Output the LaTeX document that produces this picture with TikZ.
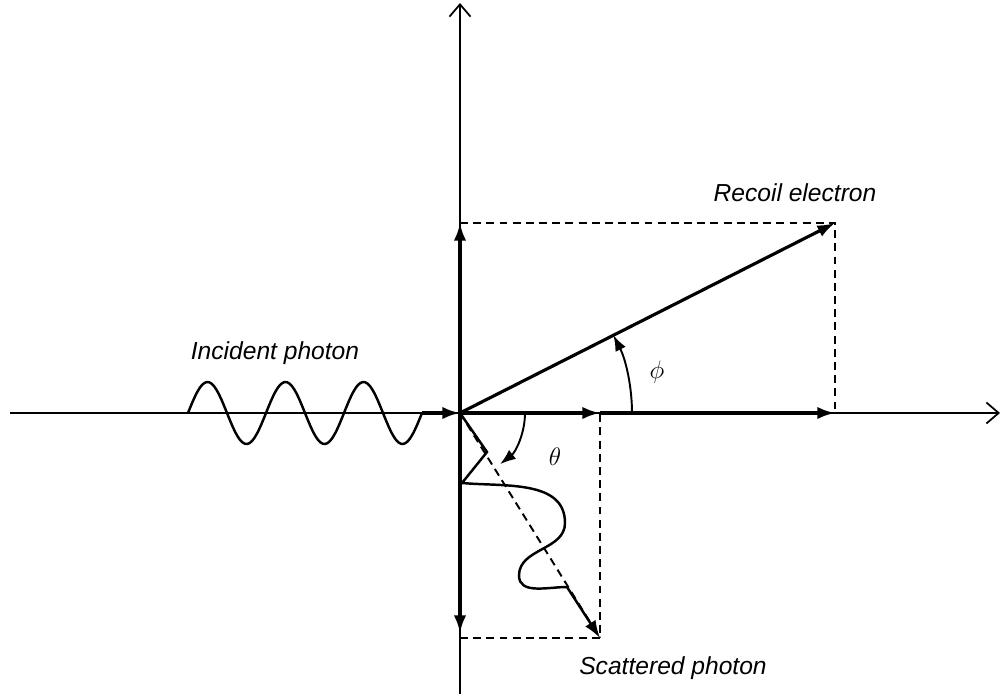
\documentclass[tikz,border=0pt]{standalone}
\usepackage{fontspec}
\setmainfont{Liberation Sans}
\usepackage{tikz}
\usetikzlibrary{arrows,arrows.meta,positioning}

\begin{document}
\begin{tikzpicture}[
    every node/.style={font=\fontsize{14}{16}\selectfont\itshape},
    axis/.style={-{Straight Barb[length=7pt,width=12pt]}, line width=1pt},
    vec/.style={-{Latex[length=10pt,width=7pt]}, line width=1.8pt},
    proj/.style={dash pattern=on 4.5pt off 3pt, line width=1.1pt},
    wave/.style={line width=1.4pt},
    ang/.style={-{Latex[length=9pt,width=6.5pt]}, line width=1.1pt}
]
\useasboundingbox (-9.2,-5.62) rectangle (10.84,8.26);

% Points
\coordinate (O)    at (0,0);
\coordinate (xl)   at (-9.0,0);
\coordinate (xr)   at (10.8,0);
\coordinate (yb)   at (0,-5.62);
\coordinate (yt)   at (0,8.2);
\coordinate (elec) at (7.5,3.8);
\coordinate (scat) at (2.8,-4.5);
\coordinate (ex)   at (7.5,0);
\coordinate (ey)   at (0,3.8);
\coordinate (sx)   at (2.8,0);
\coordinate (sy)   at (0,-4.4);
\coordinate (win)  at (-0.76,0);

% Axes
\draw[axis] (yb) -- (yt);
\draw[axis] (xl) -- (xr);

% Dashed components
\draw[proj] (ey) -- (elec) -- (ex);
\draw[proj] (O |- scat) -- (scat) -- (sx);
\draw[proj] (O) -- (scat);

% Vectors
\draw[vec] (O) -- (elec);
\draw[vec] (O) -- (ey);
\draw[vec] (O) -- (sy);
\draw[vec] (O) -- (sx);
\draw[vec] (sx) -- (ex);
\draw[vec] (win) -- (O);

% Incident wave
\draw[wave] plot[domain=-5.44:-0.76, samples=100] (\x, {0.62*sin(360*(\x+5.44)/1.56)});

% Scattered wave
\draw[wave, -{Latex[length=10pt,width=7pt]}] (O) -- (0.54,-0.78) -- (0.04,-1.4)
    to[out=-5,in=90] (2.1,-2.2) to[out=-90,in=90] (1.18,-3.25)
    to[out=-90,in=180] (2.14,-3.48) -- (scat);

% Angles
\draw[ang] (3.44,0) arc[start angle=0, end angle=26.9, radius=3.44];
\draw[ang] (1.3,0) arc[start angle=0, end angle=-52, radius=1.3];

% Labels
\node (inc)   at (-3.7,1.2)   {Incident photon};
\node (rec)   at (6.7,4.4)    {Recoil electron};
\node (sca)   at (4.26,-5.1)  {Scattered photon};
\node (phi)   at (3.94,0.82)  {$\phi$};
\node (theta) at (1.9,-0.88)  {$\theta$};

\end{tikzpicture}
\end{document}
